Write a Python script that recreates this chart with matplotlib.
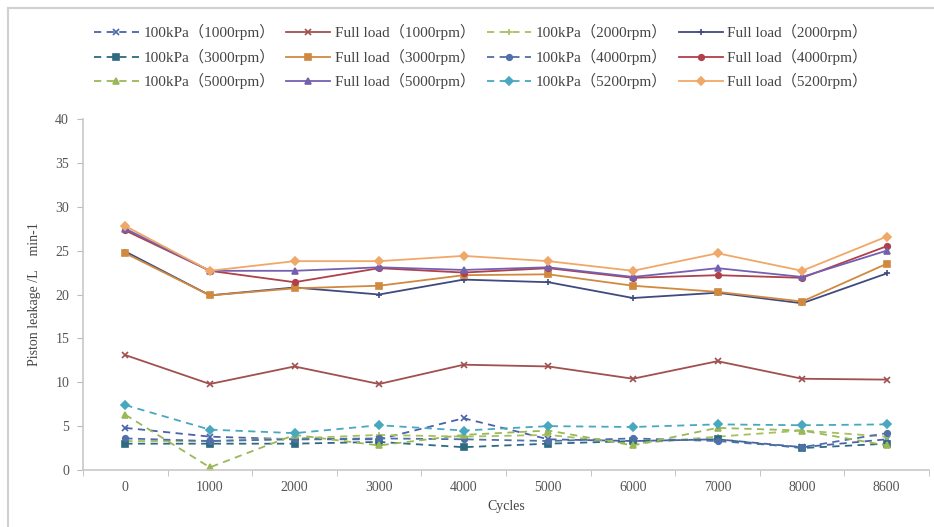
import matplotlib
matplotlib.use("Agg")
import matplotlib.pyplot as plt
from matplotlib.lines import Line2D
import numpy as np

plt.rcParams['font.family'] = ['Liberation Serif', 'Noto Sans CJK SC']

cycles = ["0", "1000", "2000", "3000", "4000", "5000", "6000", "7000", "8000", "8600"]

kpa_1000 = [4.8, 3.8, 3.5, 3.5, 5.9, 3.5, 3.3, 3.5, 2.6, 3.5]
full_1000 = [13.1, 9.8, 11.8, 9.8, 12.0, 11.8, 10.4, 12.4, 10.4, 10.3]
kpa_2000 = [3.3, 3.3, 3.6, 4.0, 3.8, 4.0, 3.0, 3.8, 4.5, 3.8]
full_2000 = [24.9, 19.9, 20.8, 20.0, 21.7, 21.4, 19.6, 20.2, 19.0, 22.4]
kpa_3000 = [3.0, 3.0, 3.0, 3.2, 2.6, 3.0, 3.3, 3.5, 2.5, 3.0]
full_3000 = [24.7, 19.9, 20.7, 21.0, 22.2, 22.3, 21.0, 20.3, 19.2, 23.5]
kpa_4000 = [3.6, 3.3, 3.5, 3.6, 3.5, 3.3, 3.6, 3.3, 2.6, 4.2]
full_4000 = [27.3, 22.7, 21.4, 23.0, 22.5, 23.0, 21.9, 22.2, 21.9, 25.5]
kpa_5000 = [6.3, 0.3, 4.0, 2.8, 4.0, 4.5, 2.8, 4.8, 4.5, 2.8]
full_5000 = [27.5, 22.7, 22.7, 23.1, 22.8, 23.1, 22.0, 23.0, 22.0, 25.0]
kpa_5200 = [7.4, 4.6, 4.2, 5.1, 4.5, 5.0, 4.9, 5.2, 5.1, 5.2]
full_5200 = [27.8, 22.7, 23.8, 23.8, 24.4, 23.8, 22.7, 24.7, 22.7, 26.6]

series = [
    ("100kPa（1000rpm）", kpa_1000, "#4a62aa", "x", "--"),
    ("Full load（1000rpm）", full_1000, "#a0504e", "x", "-"),
    ("100kPa（2000rpm）", kpa_2000, "#a6c05e", "+", "--"),
    ("Full load（2000rpm）", full_2000, "#3f4a80", "+", "-"),
    ("100kPa（3000rpm）", kpa_3000, "#2e6a80", "s", "--"),
    ("Full load（3000rpm）", full_3000, "#d08a40", "s", "-"),
    ("100kPa（4000rpm）", kpa_4000, "#4f70a8", "o", "--"),
    ("Full load（4000rpm）", full_4000, "#b0404a", "o", "-"),
    ("100kPa（5000rpm）", kpa_5000, "#9bb858", "^", "--"),
    ("Full load（5000rpm）", full_5000, "#7560b0", "^", "-"),
    ("100kPa（5200rpm）", kpa_5200, "#48a8c0", "D", "--"),
    ("Full load（5200rpm）", full_5200, "#f0a868", "D", "-"),
]

fig = plt.figure(figsize=(9.34, 5.27), dpi=100)
ax = fig.add_axes([83/934, 1-470/527, (929-83)/934, (470-119)/527])

x = np.arange(len(cycles))
handles = []
for label, vals, color, mk, ls in series:
    ms = 5 if mk in ("x", "+") else 4
    h, = ax.plot(x, vals, linestyle=ls, color=color, marker=mk, markersize=ms,
                 linewidth=1.3, label=label, markeredgewidth=1.2,
                 dashes=(4, 3) if ls == "--" else (None, None))
    handles.append(h)

ax.set_xlim(-0.5, len(cycles) - 0.5)
ax.set_ylim(0, 40)
ax.set_yticks(np.arange(0, 41, 5))
ax.set_xticks(x)
ax.set_xticklabels(cycles)
ax.set_xticks(np.arange(-0.5, len(cycles), 1), minor=True)
ax.tick_params(axis='x', which='major', length=0, pad=8, labelsize=10, colors='#555555')
ax.tick_params(axis='x', which='minor', length=4, color='#bbbbbb', direction='out')
ax.tick_params(axis='y', length=4, color='#bbbbbb', labelsize=10, colors='#555555', pad=6)
for s in ['top', 'right']:
    ax.spines[s].set_visible(False)
for s in ['left', 'bottom']:
    ax.spines[s].set_color('#c8c8c8')
    ax.spines[s].set_linewidth(1.2)

ax.set_xlabel("Cycles", fontsize=10, color='#444444', labelpad=4)
ax.set_ylabel("Piston leakage /L　min-1", fontsize=10, color='#444444', labelpad=10)

ncol = 4
nrow = 3
order = [j + i * ncol for j in range(ncol) for i in range(nrow)]
leg = fig.legend(handles=[handles[k] for k in order], loc='upper center',
                 bbox_to_anchor=(0.515, 0.98),
                 ncol=ncol, frameon=False, fontsize=11, handlelength=2.9,
                 columnspacing=0.75, handletextpad=0.3, labelspacing=0.55)
for t in leg.get_texts():
    t.set_color('#444444')

# figure border (left and top)
fig.add_artist(Line2D([8/934, 8/934], [0, 1-8/527], transform=fig.transFigure,
                      color='#d0d0d0', linewidth=1.5))
fig.add_artist(Line2D([8/934, 1], [1-8/527, 1-8/527], transform=fig.transFigure,
                      color='#d0d0d0', linewidth=1.5))

fig.savefig("out.png", dpi=100)
